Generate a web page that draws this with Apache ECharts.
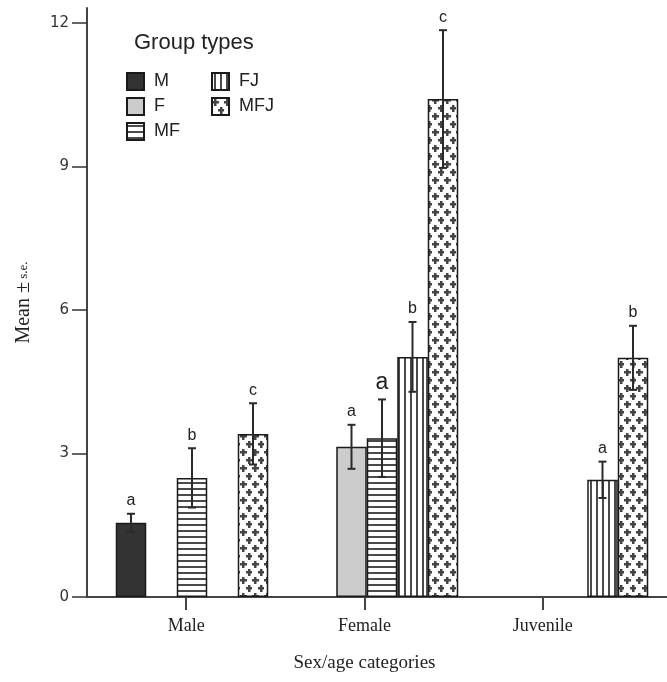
<!DOCTYPE html>
<html>
<head>
<meta charset="utf-8">
<script src="https://cdn.jsdelivr.net/npm/echarts@6/dist/echarts.min.js"></script>
<style>
  html, body { margin: 0; padding: 0; background: #fff; }
  #main { width: 667px; height: 682px; }
</style>
</head>
<body>
<div id="main"></div>
<script>
// categories and group types
var categories = ['Male', 'Female', 'Juvenile'];
var groups = ['M', 'F', 'MF', 'FJ', 'MFJ'];

// means (null = no bar)
var meanM   = [1.55, null, null];
var meanF   = [null, 3.14, null];
var meanMF  = [2.49, 3.32, null];
var meanFJ  = [null, 5.02, 2.45];
var meanMFJ = [3.41, 10.41, 5.00];

// standard errors
var seM   = [0.19, null, null];
var seF   = [null, 0.46, null];
var seMF  = [0.62, 0.81, null];
var seFJ  = [null, 0.73, 0.38];
var seMFJ = [0.64, 1.44, 0.67];

// significance letters
var letM   = ['a', null, null];
var letF   = [null, 'a', null];
var letMF  = ['b', 'a', null];
var letFJ  = [null, 'b', 'a'];
var letMFJ = ['c', 'c', 'b'];

var means = [meanM, meanF, meanMF, meanFJ, meanMFJ];
var ses = [seM, seF, seMF, seFJ, seMFJ];
var lets = [letM, letF, letMF, letFJ, letMFJ];

var BAR_W = 30.5;
var SANS = 'Liberation Sans';
var SERIF = 'Liberation Serif';

// pattern fills
function makePattern(kind) {
	var c = document.createElement('canvas');
	var ctx;
	if (kind === 'h') {
		c.width = 6; c.height = 6;
		ctx = c.getContext('2d');
		ctx.fillStyle = '#fff'; ctx.fillRect(0, 0, 6, 6);
		ctx.fillStyle = '#4a4a4a'; ctx.fillRect(0, 2, 6, 2);
	} else if (kind === 'v') {
		c.width = 6; c.height = 6;
		ctx = c.getContext('2d');
		ctx.fillStyle = '#fff'; ctx.fillRect(0, 0, 6, 6);
		ctx.fillStyle = '#4a4a4a'; ctx.fillRect(2, 0, 2, 6);
	} else {
		c.width = 12; c.height = 16;
		ctx = c.getContext('2d');
		ctx.fillStyle = '#fff'; ctx.fillRect(0, 0, 12, 16);
		ctx.fillStyle = '#444';
		var pts = [[3, 4], [9, 12]];
		pts.forEach(function(p) {
			ctx.fillRect(p[0] - 3, p[1] - 1, 7, 2.5);
			ctx.fillRect(p[0] - 1, p[1] - 3, 2.5, 7);
		});
	}
	return { image: c, repeat: 'repeat' };
}

var fills = ['#333333', '#cccccc', makePattern('h'), makePattern('v'), makePattern('x')];

var series = [];
groups.forEach(function(g, i) {
	series.push({
		name: g,
		type: 'bar',
		xAxisIndex: 1,
		yAxisIndex: 1,
		barWidth: BAR_W,
		barGap: '0%',
		data: means[i],
		itemStyle: {
			color: fills[i],
			borderColor: '#1a1a1a',
			borderWidth: 1.5
		},
		emphasis: { disabled: true }
	});
});

// error bars + letters
var errData = [];
var errLetters = [];
groups.forEach(function(g, i) {
	for (var c = 0; c < categories.length; c++) {
		if (means[i][c] == null) continue;
		errData.push([c, means[i][c], ses[i][c], i]);
		errLetters.push(lets[i][c]);
	}
});

series.push({
	type: 'custom',
	xAxisIndex: 1,
	yAxisIndex: 1,
	z: 10,
	silent: true,
	data: errData,
	encode: { x: 0, y: 1 },
	renderItem: function(params, api) {
		var c = api.value(0), m = api.value(1), s = api.value(2), slot = api.value(3);
		var top = api.coord([c, m + s]);
		var bot = api.coord([c, m - s]);
		var x = top[0] + (slot - 2) * BAR_W;
		var letter = errLetters[params.dataIndex];
		var big = (slot === 2 && c === 1);
		var ls = { stroke: '#2a2a2a', lineWidth: 2 };
		return {
			type: 'group',
			children: [
				{ type: 'line', shape: { x1: x, y1: top[1], x2: x, y2: bot[1] }, style: ls },
				{ type: 'line', shape: { x1: x - 4, y1: top[1], x2: x + 4, y2: top[1] }, style: ls },
				{ type: 'line', shape: { x1: x - 4, y1: bot[1], x2: x + 4, y2: bot[1] }, style: ls },
				{
					type: 'text',
					style: {
						x: x, y: top[1] - 5,
						text: letter,
						align: 'center',
						verticalAlign: 'bottom',
						fontFamily: SANS,
						fontSize: big ? 23 : 16,
						fill: '#222'
					}
				}
			]
		};
	}
});

var myChart = echarts.init(document.getElementById('main'));

var option = {
	animation: false,
	backgroundColor: '#fff',
	title: {
		text: 'Group types',
		left: 129,
		top: 27,
		textStyle: { fontFamily: SANS, fontSize: 22, fontWeight: 'normal', color: '#222' }
	},
	legend: [{
		data: ['M', 'F', 'MF'],
		left: 121,
		top: 67,
		orient: 'vertical',
		itemGap: 6,
		itemWidth: 17,
		itemHeight: 17,
		icon: 'rect',
		selectedMode: false,
		textStyle: { fontFamily: SANS, fontSize: 18, color: '#222', padding: [0, 0, 0, 5] }
	}, {
		data: ['FJ', 'MFJ'],
		left: 206,
		top: 67,
		orient: 'vertical',
		itemGap: 6,
		itemWidth: 17,
		itemHeight: 17,
		icon: 'rect',
		selectedMode: false,
		textStyle: { fontFamily: SANS, fontSize: 18, color: '#222', padding: [0, 0, 0, 5] }
	}],
	grid: [
		{ left: 87, right: 0, top: 8, bottom: 85 },
		{ left: 97, right: -8, top: 23, bottom: 85 },
		{ left: 97, right: 35, top: 23, bottom: 85 }
	],
	xAxis: [{
		gridIndex: 0,
		type: 'value',
		min: 0, max: 1,
		axisLine: { show: true, lineStyle: { color: '#444', width: 2 } },
		axisTick: { show: false },
		axisLabel: { show: false },
		splitLine: { show: false }
	}, {
		gridIndex: 1,
		type: 'category',
		data: categories,
		show: false
	}, {
		gridIndex: 2,
		type: 'category',
		data: categories,
		axisLine: { show: false },
		axisTick: { show: true, alignWithLabel: true, length: 13, lineStyle: { color: '#444', width: 2 } },
		axisLabel: { margin: 20, fontFamily: SERIF, fontSize: 18, color: '#222' },
		name: 'Sex/age categories',
		nameLocation: 'middle',
		nameGap: 57,
		nameTextStyle: { fontFamily: SERIF, fontSize: 19, color: '#222' }
	}],
	yAxis: [{
		gridIndex: 0,
		type: 'value',
		min: 0, max: 1,
		axisLine: { show: true, lineStyle: { color: '#444', width: 2 } },
		axisTick: { show: false },
		axisLabel: { show: false },
		splitLine: { show: false },
		name: '{a|Mean ±} {b|s.e.}',
		nameLocation: 'middle',
		nameGap: 53,
		nameTextStyle: {
			rich: {
				a: { fontFamily: SERIF, fontSize: 20, color: '#222' },
				b: { fontFamily: SERIF, fontSize: 13, color: '#222' }
			}
		}
	}, {
		gridIndex: 1,
		type: 'value',
		min: 0, max: 12, interval: 3,
		offset: 10,
		axisLine: { show: false },
		axisTick: { show: true, length: 15, lineStyle: { color: '#333', width: 1.5 } },
		axisLabel: { margin: 18, fontFamily: 'DejaVu Sans', fontSize: 15, color: '#333' },
		splitLine: { show: false }
	}, {
		gridIndex: 2,
		type: 'value',
		min: 0, max: 12,
		show: false
	}],
	series: series
};

myChart.setOption(option);
window.addEventListener('resize', function() {
	myChart.resize();
});
</script>
</body>
</html>
